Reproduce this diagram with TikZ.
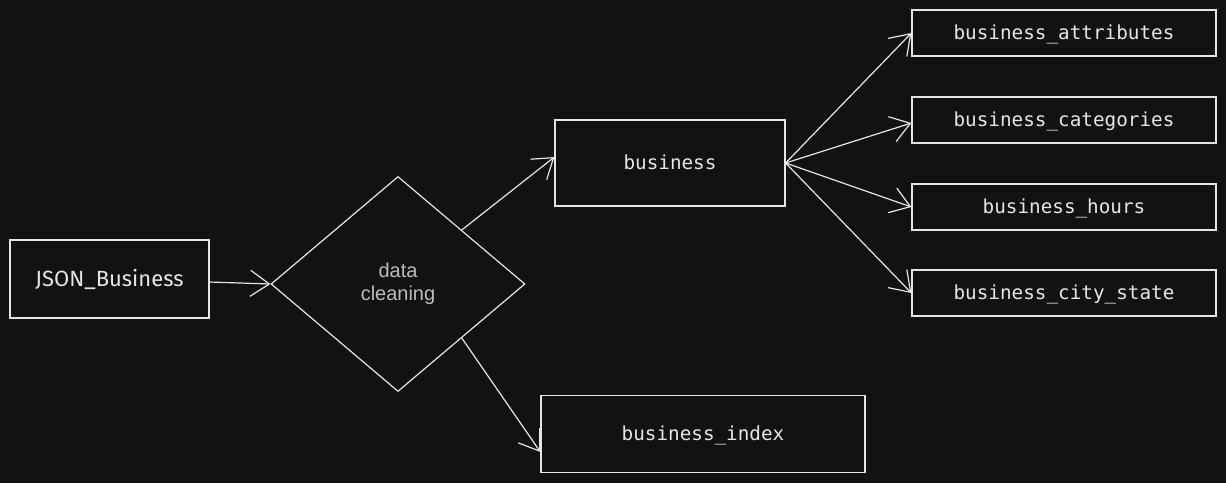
\documentclass[tikz,border=0pt]{standalone}
\usepackage{fontspec}
\setmainfont{Liberation Sans}
\setmonofont{DejaVu Sans Mono}
\newfontfamily\handfont{Fira Sans}
\usepackage{tikz}
\usetikzlibrary{arrows.meta}
\usetikzlibrary{shapes.geometric, positioning}
\definecolor{bgcol}{HTML}{121212}
\definecolor{inkcol}{HTML}{E6E6E6}
\definecolor{greytext}{HTML}{BDBDBD}
\tikzset{
  tablebox/.style={draw=inkcol, line width=1.2pt, rectangle, inner sep=0pt,
    minimum width=304pt, minimum height=46pt, text=inkcol, text height=14pt, text depth=1pt,
    font=\ttfamily\fontsize{19.3}{22}\selectfont},
  stepbox/.style={draw=inkcol, line width=1.2pt, rectangle, inner sep=0pt, text=inkcol},
  flow/.style={draw=inkcol, line width=1.2pt, -{Straight Barb[length=19pt,width=26pt,line width=1.2pt]}}
}

\begin{document}
\begin{tikzpicture}[x=1pt,y=-1pt]
      \fill[bgcol] (0,0) rectangle (1226,483);
      \node[stepbox, minimum width=199pt, minimum height=78pt,
        font=\handfont\fontsize{22}{26}\selectfont] (json) at (109.5,279) {JSON\_Business};
      \node[diamond, draw=inkcol, line width=1.2pt, inner sep=0pt, aspect=1.18,
        minimum width=254pt, minimum height=215pt, text=greytext, align=center,
        font=\fontsize{20}{23}\selectfont] (clean) at (398,284) {data\\cleaning};
      \node[stepbox, minimum width=230pt, minimum height=86pt, text height=14pt, text depth=1pt,
        font=\ttfamily\fontsize{19.3}{22}\selectfont] (business) at (670,163) {business};
      \node[stepbox, minimum width=324pt, minimum height=77pt, text height=14pt, text depth=1pt,
        font=\ttfamily\fontsize{19.3}{22}\selectfont] (index) at (703,434) {business\_index};
      \node[tablebox] (attributes) at (1064,33) {business\_attributes};
      \node[tablebox] (categories) at (1064,120) {business\_categories};
      \node[tablebox] (hours) at (1064,207) {business\_hours};
      \node[tablebox] (citystate) at (1064,293) {business\_city\_state};
      \draw[flow] ([yshift=-3pt]json.east) -- (clean.west);
      \draw[flow] (clean.north east) -- ([yshift=6pt]business.west);
      \draw[flow] (clean.south east) -- ([yshift=-18pt]index.west);
      \draw[flow] (business.east) -- (attributes.west);
      \draw[flow] (business.east) -- ([yshift=-3pt]categories.west);
      \draw[flow] (business.east) -- (hours.west);
      \draw[flow] (business.east) -- (citystate.west);
\end{tikzpicture}
\end{document}
